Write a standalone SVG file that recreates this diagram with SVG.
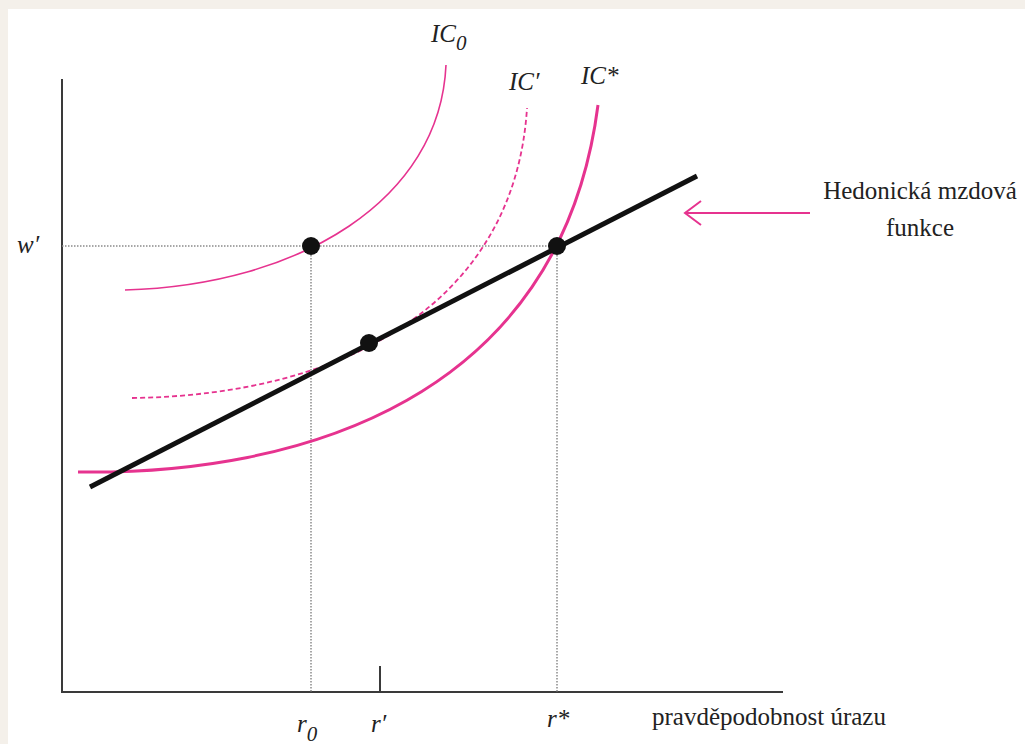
<svg xmlns="http://www.w3.org/2000/svg" width="1025" height="744" viewBox="0 0 1025 744">
<style>
.it{font-style:italic;}
.axis{stroke:#3a3a3a;stroke-width:2;fill:none;}
.dot{stroke:#8a8a8a;stroke-width:1.5;stroke-dasharray:1.5 1.5;fill:none;}
.ic{stroke:#e6338f;fill:none;}
.pt{fill:#111;}
</style>
<defs>
<marker id="chev" markerWidth="20" markerHeight="30" refX="17" refY="13" orient="auto" markerUnits="userSpaceOnUse">
<path d="M1,1 L17,13 L1,25" fill="none" stroke="#e6338f" stroke-width="2"/>
</marker>
</defs>
<rect x="0" y="0" width="1025" height="744" fill="#f4f0ea"/>
<rect x="8" y="9" width="1017" height="735" fill="#ffffff"/>
<g id="axes">
<path class="axis" d="M62,79 V692 H783"/>
<path class="axis" d="M380,666 V692" stroke-width="1.5"/>
</g>
<g id="guides">
<path class="dot" d="M62,246 H558"/>
<path class="dot" d="M311,246 V692"/>
<path class="dot" d="M557,246 V692"/>
</g>
<g id="connectors">
<path id="ic0" class="ic" stroke-width="1.6" d="M125,290 C300,285 440,200 446,65"/>
<path id="icprime" class="ic" stroke-width="1.8" stroke-dasharray="5 3" d="M132,398 C350,395 515,300 527,108"/>
<path id="icstar" class="ic" stroke-width="3" d="M78,472 C300,475 560,400 598,105"/>
<path id="hedonic" d="M90,487 L697,176" stroke="#111" stroke-width="5" fill="none"/>
<path id="arrow" d="M810,213 H685" stroke="#e6338f" stroke-width="2" fill="none" marker-end="url(#chev)"/>
</g>
<g id="points">
<circle id="p0" class="pt" cx="311" cy="246" r="9"/>
<circle id="pprime" class="pt" cx="369" cy="343" r="9"/>
<circle id="pstar" class="pt" cx="557" cy="246" r="9"/>
</g>
<g id="labels" font-family="Liberation Serif, DejaVu Serif, serif" font-size="25" fill="#222">
<text class="it" x="431" y="42">IC<tspan font-size="21" dy="8">0</tspan></text>
<text class="it" x="509" y="90">IC′</text>
<text class="it" x="581" y="84">IC*</text>
<text class="it" x="17" y="253">w′</text>
<text class="it" x="297" y="732">r<tspan font-size="21" dy="9">0</tspan></text>
<text class="it" x="371" y="732">r′</text>
<text class="it" x="547" y="727">r*</text>
<text x="652" y="725">pravděpodobnost úrazu</text>
<text x="920" y="199" text-anchor="middle">Hedonická mzdová</text>
<text x="920" y="236" text-anchor="middle">funkce</text>
</g>
</svg>
